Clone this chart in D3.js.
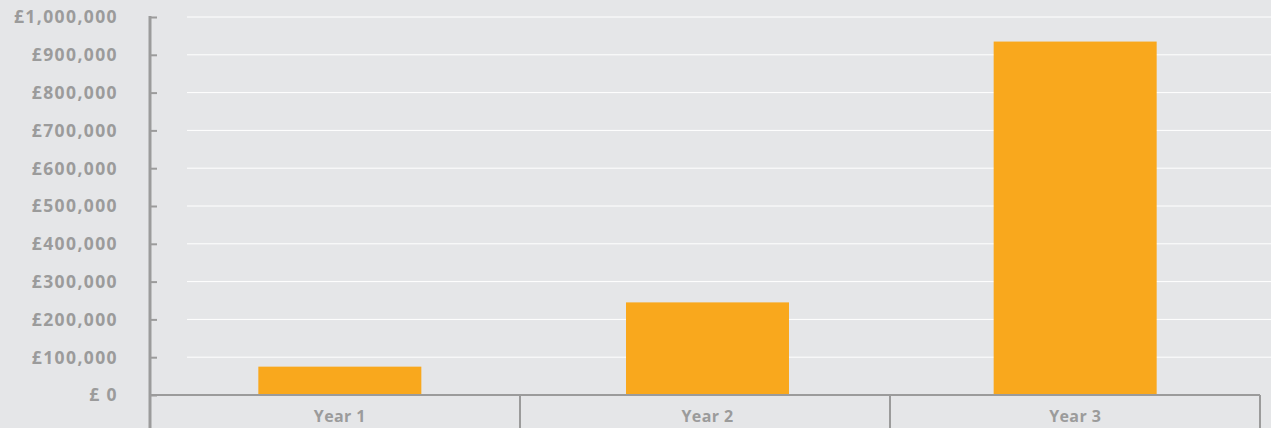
<!DOCTYPE html>
<html>
<head>
<meta charset="utf-8">
<script src="https://cdn.jsdelivr.net/npm/d3@7"></script>
<style>
  html, body { margin: 0; padding: 0; background: #e5e6e8; }
  svg { display: block; }
  text { font-family: "Open Sans", Lato, sans-serif; font-weight: 700; fill: #9b9b9b; }
</style>
</head>
<body>
<div id="chart"></div>
<script>
// data
const years = ['Year 1', 'Year 2', 'Year 3'];
const revenue = [75000, 245000, 935000];
const yTicks = [0, 100000, 200000, 300000, 400000, 500000, 600000, 700000, 800000, 900000, 1000000];

const width = 1271;
const height = 428;
const margin = { top: 17, right: 11, bottom: 33, left: 150 };

const svg = d3.select('#chart').append('svg').attr('width', width).attr('height', height);

// category bands (separators) and bar slots
const x = d3.scaleBand()
  .domain(years)
  .range([margin.left, width - margin.right]);
const xBar = d3.scaleBand()
  .domain(years)
  .range([156, 1259]);

const y = d3.scaleLinear()
  .domain([0, 1000000])
  .range([height - margin.bottom, margin.top]);

const fmt = (v) => v === 0 ? '£ 0' : '£' + d3.format(',')(v);

// white gridlines
svg.append('g')
  .selectAll('line')
  .data(yTicks.filter((d) => d > 0))
  .join('line')
  .attr('x1', 187)
  .attr('x2', width)
  .attr('y1', (d) => y(d))
  .attr('y2', (d) => y(d))
  .attr('stroke', '#ffffff')
  .attr('stroke-width', 1);

// bars
const barW = 163;
svg.append('g')
  .selectAll('rect')
  .data(years.map((c, i) => ({ c, v: revenue[i] })))
  .join('rect')
  .attr('x', (d) => xBar(d.c) + xBar.bandwidth() / 2 - barW / 2)
  .attr('width', barW)
  .attr('y', (d) => y(d.v))
  .attr('height', (d) => y(0) - y(d.v))
  .attr('fill', '#f9a81d');

// y axis
svg.append('g')
  .attr('transform', `translate(${margin.left},0)`)
  .call(d3.axisRight(y).tickValues(yTicks).tickSize(7).tickFormat(''))
  .call((g) => g.select('.domain').remove())
  .call((g) => g.selectAll('.tick line').attr('stroke', '#9b9b9b').attr('stroke-width', 2));

svg.append('line')
  .attr('x1', margin.left).attr('x2', margin.left)
  .attr('y1', y(1000000) - 1).attr('y2', height)
  .attr('stroke', '#9b9b9b').attr('stroke-width', 3);

svg.append('g')
  .selectAll('text')
  .data(yTicks)
  .join('text')
  .attr('x', 118)
  .attr('y', (d) => y(d))
  .attr('dy', '0.36em')
  .attr('text-anchor', 'end')
  .style('font-size', '17.5px')
  .style('letter-spacing', '1.4px')
  .text(fmt);

// x axis
svg.append('line')
  .attr('x1', margin.left).attr('x2', width - margin.right)
  .attr('y1', y(0)).attr('y2', y(0))
  .attr('stroke', '#9b9b9b').attr('stroke-width', 2);

const bounds = [...years.map((c) => x(c)), x(years[years.length - 1]) + x.bandwidth()];
svg.append('g')
  .selectAll('line')
  .data(bounds)
  .join('line')
  .attr('x1', (d) => d).attr('x2', (d) => d)
  .attr('y1', y(0)).attr('y2', height)
  .attr('stroke', '#9b9b9b').attr('stroke-width', 2);

svg.append('g')
  .selectAll('text')
  .data(years)
  .join('text')
  .attr('x', (d) => xBar(d) + xBar.bandwidth() / 2)
  .attr('y', 422)
  .attr('text-anchor', 'middle')
  .style('font-size', '16px')
  .style('letter-spacing', '0.4px')
  .text((d) => d);
</script>
</body>
</html>
